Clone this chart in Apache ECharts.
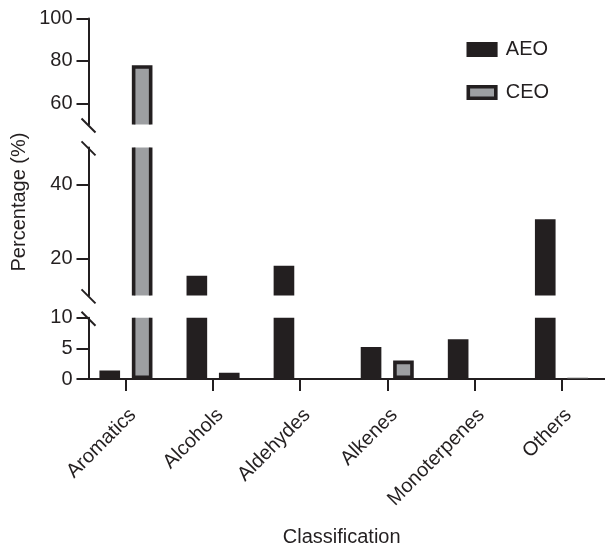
<!DOCTYPE html>
<html>
<head>
<meta charset="utf-8">
<script src="https://cdn.jsdelivr.net/npm/echarts@6/dist/echarts.min.js"></script>
<style>
  html, body { margin: 0; padding: 0; background: #ffffff; }
  #chart { width: 605px; height: 548px; }
</style>
</head>
<body>
<div id="chart"></div>
<script>
// Compound classes and their share (%) in each essential oil
const categories = ['Aromatics', 'Alcohols', 'Aldehydes', 'Alkenes', 'Monoterpenes', 'Others'];
const aeoValues = [1.4, 15.3, 18.0, 5.2, 6.5, 30.6];
const ceoValues = [78.0, 1.0, 0, 3.0, 0, 0.2];

// Broken y axis: three stacked segments, top to bottom
const segmentMin = [50, 10, 0];
const segmentMax = [100, 50, 10];
const segmentTicks = [[60, 80, 100], [20, 40], [0, 5, 10]];

const INK = '#231f20';
const GREY = '#9d9fa2';
const FONT = "'Liberation Sans', Arial, Helvetica, sans-serif";

// grid geometry (px)
const GRID_LEFT = 82.4;
const GRID_WIDTH = 531.6;
const Y_OFFSET = -6.1;
const gridTop = [18.5, 147.4, 317.7];
const gridHeight = [106, 148, 63.3];

const BAR_W = 0.237;      // bar width as share of category band
const BAR_SHIFT = 0.186;  // bar centre shift from category centre
const BORDER = 3.6;

function barRenderer(side, outlined) {
  return function (params, api) {
    const cat = api.value(0);
    const val = api.value(1);
    if (!(val > 0)) return null;
    const band = api.size([1, 0])[0];
    const centre = api.coord([cat, val]);
    const base = api.coord([cat, 0]);
    const w = band * BAR_W;
    const x = centre[0] + side * band * BAR_SHIFT - w / 2;
    const y = centre[1];
    const h = base[1] - y;
    if (!outlined || h <= BORDER * 1.5) {
      return {
        type: 'rect',
        shape: { x: x, y: y, width: w, height: h },
        style: { fill: outlined ? '#4a4849' : INK }
      };
    }
    return {
      type: 'rect',
      shape: { x: x + BORDER / 2, y: y + BORDER / 2, width: w - BORDER, height: h - BORDER },
      style: { fill: GREY, stroke: INK, lineWidth: BORDER }
    };
  };
}

const grids = [], xAxes = [], yAxes = [], series = [];
for (let k = 0; k < 3; k++) {
  const isBottom = k === 2;
  grids.push({ left: GRID_LEFT, width: GRID_WIDTH, top: gridTop[k], height: gridHeight[k] });
  xAxes.push({
    type: 'category',
    gridIndex: k,
    data: categories,
    boundaryGap: true,
    show: isBottom,
    axisLine: { show: isBottom, onZero: false, lineStyle: { color: INK, width: 2 } },
    axisTick: { show: isBottom, alignWithLabel: true, length: 12, lineStyle: { color: INK, width: 2 } },
    axisLabel: {
      show: isBottom, rotate: 45, fontSize: 20, color: INK, fontFamily: FONT,
      margin: 26, verticalAlign: 'top'
    },
    splitLine: { show: false },
    name: isBottom ? 'Classification' : '',
    nameLocation: 'middle',
    nameGap: 148,
    nameTextStyle: { fontSize: 20, color: INK, fontFamily: FONT, padding: [0, 4, 0, 0] }
  });
  yAxes.push({
    type: 'value',
    gridIndex: k,
    min: segmentMin[k],
    max: segmentMax[k],
    offset: Y_OFFSET,
    axisLine: { show: true, onZero: false, lineStyle: { color: INK, width: 2 } },
    axisTick: { show: true, length: 12, lineStyle: { color: INK, width: 2 }, customValues: segmentTicks[k] },
    axisLabel: { fontSize: 20, color: INK, fontFamily: FONT, margin: 16, customValues: segmentTicks[k] },
    splitLine: { show: false }
  });
  series.push({
    type: 'custom', name: 'AEO', xAxisIndex: k, yAxisIndex: k, clip: true,
    itemStyle: { color: INK },
    encode: { x: 0, y: 1 },
    data: categories.map((c, i) => [i, aeoValues[i]]),
    renderItem: barRenderer(-1, false)
  });
  series.push({
    type: 'custom', name: 'CEO', xAxisIndex: k, yAxisIndex: k, clip: true,
    itemStyle: { color: GREY },
    encode: { x: 0, y: 1 },
    data: categories.map((c, i) => [i, ceoValues[i]]),
    renderItem: barRenderer(1, true)
  });
}

const chart = echarts.init(document.getElementById('chart'), null, { renderer: 'canvas' });
chart.setOption({
  backgroundColor: '#ffffff',
  animation: false,
  textStyle: { fontFamily: FONT },
  grid: grids,
  xAxis: xAxes,
  yAxis: yAxes,
  legend: {
    orient: 'vertical',
    left: 461.5,
    top: 34.5,
    icon: 'rect',
    itemWidth: 27.5,
    itemHeight: 11.5,
    itemGap: 23,
    selectedMode: false,
    textStyle: { fontSize: 20, color: INK, fontFamily: FONT, padding: [0, 0, 0, 5] },
    data: [
      { name: 'AEO', itemStyle: { color: INK, borderColor: INK, borderWidth: BORDER } },
      { name: 'CEO', itemStyle: { color: GREY, borderColor: INK, borderWidth: BORDER } }
    ]
  },
  series: series
});

// Break marks (short slanted strokes) where the y-axis segments end
const axisX = GRID_LEFT - Y_OFFSET;
const breakEnds = [[0, segmentMin[0]], [1, segmentMax[1]], [1, segmentMin[1]], [2, segmentMax[2]]];
const marks = breakEnds.map(([k, v]) => {
  const y = chart.convertToPixel({ yAxisIndex: k }, v);
  return {
    type: 'line',
    shape: { x1: axisX - 7, y1: y - 6, x2: axisX + 7, y2: y + 8 },
    style: { stroke: INK, lineWidth: 2 },
    z: 10
  };
});
chart.setOption({
  graphic: marks.concat([{
    type: 'text',
    x: 19,
    y: 202,
    rotation: Math.PI / 2,
    style: { text: 'Percentage (%)', fontSize: 20, fill: INK, fontFamily: FONT, align: 'center', verticalAlign: 'middle' }
  }])
});
</script>
</body>
</html>
